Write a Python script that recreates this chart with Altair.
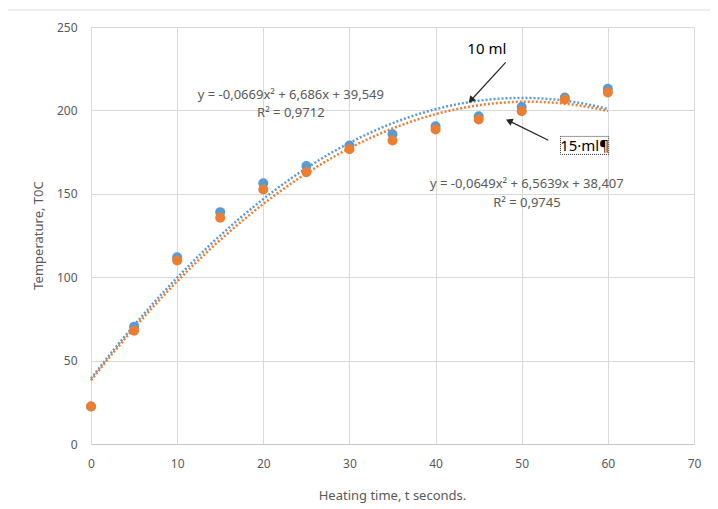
import altair as alt
import pandas as pd

# ---- data ----
t_sec = [0, 5, 10, 15, 20, 25, 30, 35, 40, 45, 50, 55, 60]
temp_10ml = [22.5, 70.3, 112.0, 139.0, 156.3, 166.6, 179.0, 185.7, 190.5, 196.5, 202.0, 207.7, 213.0]
temp_15ml = [22.5, 67.9, 110.0, 135.6, 152.6, 162.9, 176.7, 182.0, 188.5, 194.5, 199.5, 206.5, 210.8]
series_names = ["10 ml", "15 ml"]
series_colors = ["#5B9BD5", "#ED7D31"]

eq_text = ["y = -0,0669x² + 6,686x + 39,549", "R² = 0,9712",
           "y = -0,0649x² + 6,5639x + 38,407", "R² = 0,9745"]
eq_x = [23.2, 23.2, 50.6, 50.6]
eq_y = [209.0, 198.2, 155.6, 144.4]

label_text = ["10 ml", "15·ml¶"]
label_x = [45.95, 57.3]
label_y = [237.0, 178.6]

arrow_x = [48.14, 53.09]
arrow_y = [228.8, 182.1]
arrow_x2 = [44.11, 48.53]
arrow_y2 = [206.1, 193.7]
arrow_angle = [221, 295]

box_x, box_x2, box_y, box_y2 = [54.5], [60.1], [184.4], [173.6]

rows = []
for name, vals in zip(series_names, [temp_10ml, temp_15ml]):
    for t, v in zip(t_sec, vals):
        rows.append({"t": t, "T": v, "series": name})
df = pd.DataFrame(rows)

eq_df = pd.DataFrame({"x": eq_x, "y": eq_y, "text": eq_text})
lab_df = pd.DataFrame({"x": label_x, "y": label_y, "text": label_text})
arr_df = pd.DataFrame({"x": arrow_x, "y": arrow_y, "x2": arrow_x2, "y2": arrow_y2, "angle": arrow_angle})
box_df = pd.DataFrame({"x": box_x, "x2": box_x2, "y": box_y, "y2": box_y2})

FONT = "Noto Sans"
GRAY = "#595959"

xs = alt.Scale(domain=[0, 70], nice=False)
ys = alt.Scale(domain=[0, 250], nice=False)
color = alt.Color("series:N", scale=alt.Scale(domain=series_names, range=series_colors), legend=None)

x_axis = alt.Axis(values=list(range(0, 71, 10)), title="Heating time, t seconds.",
                  grid=True, gridColor="#d9d9d9", domainColor="#c8c8c8", ticks=False, tickSize=0,
                  labelFlush=False, labelPadding=14, labelColor=GRAY, labelFontSize=12, labelFont=FONT,
                  titleColor=GRAY, titleFontSize=13, titleFont=FONT, titleFontWeight="normal",
                  titleX=301, titleY=51, titleBaseline="middle")
y_axis = alt.Axis(values=list(range(0, 251, 50)), title="Temperature, T0C",
                  grid=True, gridColor="#d9d9d9", domain=False, ticks=False, tickSize=0,
                  labelFlush=False, labelPadding=14, labelColor=GRAY, labelFontSize=12, labelFont=FONT,
                  titleColor=GRAY, titleFontSize=13, titleFont=FONT, titleFontWeight="normal",
                  titleX=-53, titleY=208, titleAngle=-90, titleBaseline="middle", titleAlign="center")

base = alt.Chart(df)

points = base.mark_circle(size=100, opacity=1).encode(
    x=alt.X("t:Q", scale=xs, axis=x_axis),
    y=alt.Y("T:Q", scale=ys, axis=y_axis),
    color=color,
    order=alt.Order("series:N"),
)

trend = base.transform_regression("t", "T", method="poly", order=2, groupby=["series"], extent=[0, 60]).mark_line(
    strokeDash=[2, 2], strokeWidth=2.5
).encode(x=alt.X("t:Q", scale=xs), y=alt.Y("T:Q", scale=ys), color=color)

eqs = alt.Chart(eq_df).mark_text(font=FONT, fontSize=13, color=GRAY, align="center", baseline="middle").encode(
    x=alt.X("x:Q", scale=xs), y=alt.Y("y:Q", scale=ys), text="text:N")

labels = alt.Chart(lab_df).mark_text(font=FONT, fontSize=15, color="#000000", align="center", baseline="middle").encode(
    x=alt.X("x:Q", scale=xs), y=alt.Y("y:Q", scale=ys), text="text:N")

box = alt.Chart(box_df).mark_rect(fill=None, stroke="#333333", strokeDash=[1, 1], strokeWidth=1).encode(
    x=alt.X("x:Q", scale=xs), x2="x2:Q", y=alt.Y("y:Q", scale=ys), y2="y2:Q")

arrows = alt.Chart(arr_df).mark_rule(color="#262626", strokeWidth=1.2).encode(
    x=alt.X("x:Q", scale=xs), x2="x2:Q", y=alt.Y("y:Q", scale=ys), y2="y2:Q")

heads = alt.Chart(arr_df).mark_point(shape="triangle-up", filled=True, size=60, color="#262626", opacity=1).encode(
    x=alt.X("x2:Q", scale=xs), y=alt.Y("y2:Q", scale=ys), angle=alt.Angle("angle:Q", scale=None))

frame_v = alt.Chart(pd.DataFrame({"a": [0]})).mark_rule(color="#d9d9d9", strokeWidth=1).encode(
    x=alt.value(-84), y=alt.value(-17), y2=alt.value(500))
frame_h = alt.Chart(pd.DataFrame({"a": [0]})).mark_rule(color="#d9d9d9", strokeWidth=1).encode(
    x=alt.value(-84), x2=alt.value(640), y=alt.value(-17))

chart = alt.layer(frame_v, frame_h, trend, points, eqs, labels, box, arrows, heads).properties(
    width=603, height=417,
    autosize=alt.AutoSizeParams(type="none"),
    padding={"left": 83, "top": 19, "right": 16, "bottom": 62},
).configure_view(stroke=None).configure(background="white")

chart.save("out.html", embed_options={"renderer": "svg", "actions": False})
